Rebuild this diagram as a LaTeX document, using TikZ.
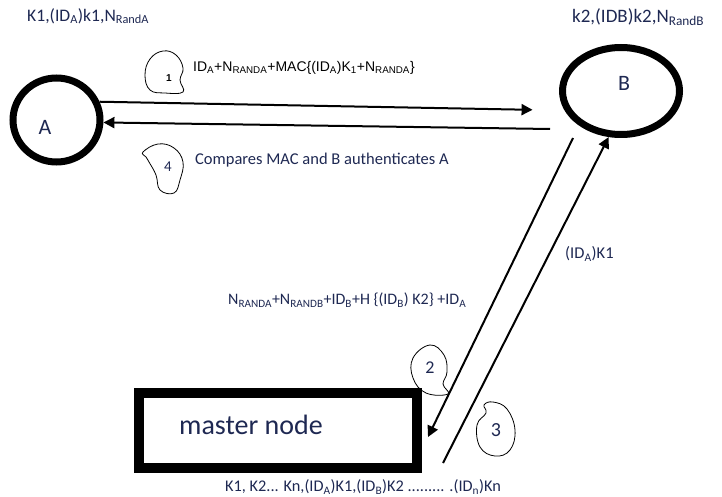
\documentclass[tikz,border=0pt]{standalone}
\usepackage{fontspec}
\setmainfont{Carlito}
\newfontfamily\arialf{Liberation Sans}
\usetikzlibrary{shapes.geometric,arrows.meta}
\definecolor{navy}{RGB}{30,40,82}
\tikzset{
  peer/.style={draw, ellipse, line width=7pt, inner sep=0pt},
  boxnode/.style={draw, rectangle, line width=10pt, inner sep=0pt},
  msg/.style={line width=2pt, -{Triangle[length=11pt,width=11pt]}},
  bubble/.style={draw, line width=0.8pt},
  txt/.style={text=navy, inner sep=0pt, anchor=west},
  stepnum/.style={text=navy, inner sep=0pt}
}
\begin{document}
\begin{tikzpicture}[x=1pt,y=-1pt]
\useasboundingbox (0,0) rectangle (722,497);

% the two peers and the master node
\node[peer, minimum width=87pt, minimum height=84pt] (A) at (56.5,120) {};
\node[stepnum, font=\fontsize{22}{24}\selectfont] at (45,127) {A};
\node[peer, minimum width=117pt, minimum height=87pt] (B) at (621,91) {};
\node[stepnum, font=\fontsize{22}{24}\selectfont] at (624,83) {B};
\node[boxnode, minimum width=278pt, minimum height=75pt] (M) at (278,430.5) {};
\node[txt, anchor=base west, font=\fontsize{28}{30}\selectfont] at (179,434) {master node};

% key material held by each party
\node[txt, font=\fontsize{17.6}{20}\selectfont] (kA) at (27,16) {K1,(ID\textsubscript{A})k1,N\textsubscript{RandA}};
\node[txt, font=\fontsize{19}{21}\selectfont] (kB) at (572,17) {k2,(IDB)k2,N\textsubscript{RandB}};

% message endpoints
\coordinate (e4) at (550,129);
\coordinate (s2) at (573,138);
\coordinate (e2) at (428,437);
\coordinate (s3) at (443,463);

% messages
\draw[msg, shorten >=32pt] (A.23) -- (B.199);
\draw[msg] (e4) -- (A.-3);
\draw[msg] (s2) -- (e2);
\draw[msg] (s3) -- (B.255);

% step bubbles
\draw[bubble] plot[smooth cycle, tension=0.7] coordinates {(150,59) (163,51) (176,55) (183,68) (180,80) (183,92) (165,93) (150,90) (145,75)};
\node[inner sep=0pt, font=\arialf\bfseries\fontsize{10}{12}\selectfont] at (169,78) {1};
\draw[bubble] plot[smooth cycle, tension=0.7] coordinates {(143,152) (158,144) (174,148) (183,162) (180,180) (174,193) (160,190) (156,175) (149,162) (146,157)};
\node[stepnum, font=\fontsize{15}{17}\selectfont] at (168,167) {4};
\draw[bubble] plot[smooth cycle, tension=0.7] coordinates {(430,345) (444,355) (447,372) (443,384) (448,394) (426,393) (413,378) (413,358)};
\node[stepnum, font=\fontsize{18}{20}\selectfont] at (430,368) {2};
\draw[bubble] plot[smooth cycle, tension=0.7] coordinates {(484,405) (493,402) (507,409) (515,430) (510,450) (495,456) (480,447) (477,425) (486,413)};
\node[stepnum, font=\fontsize{20}{22}\selectfont] at (496,430) {3};

% message contents
\node[inner sep=0pt, anchor=west, font=\arialf\fontsize{14}{16}\selectfont] at (193,68)
  {ID\textsubscript{A}+N\textsubscript{RANDA}+MAC\{(ID\textsubscript{A})K\textsubscript{1}+N\textsubscript{RANDA}\}};
\node[txt, font=\fontsize{16.5}{18}\selectfont] at (195,160) {Compares MAC and B authenticates A};
\node[txt, font=\fontsize{16}{18}\selectfont] at (228,300)
  {N\textsubscript{RANDA}+N\textsubscript{RANDB}+ID\textsubscript{B}+H \{(ID\textsubscript{B}) K2\} +ID\textsubscript{A}};
\node[txt, font=\fontsize{16.5}{18}\selectfont] at (565,254) {(ID\textsubscript{A})K1};
\node[txt, font=\fontsize{16.3}{18}\selectfont] at (225,487)
  {K1, K2... Kn,(ID\textsubscript{A})K1,(ID\textsubscript{B})K2 ......... .(ID\textsubscript{n})Kn};
\end{tikzpicture}
\end{document}
